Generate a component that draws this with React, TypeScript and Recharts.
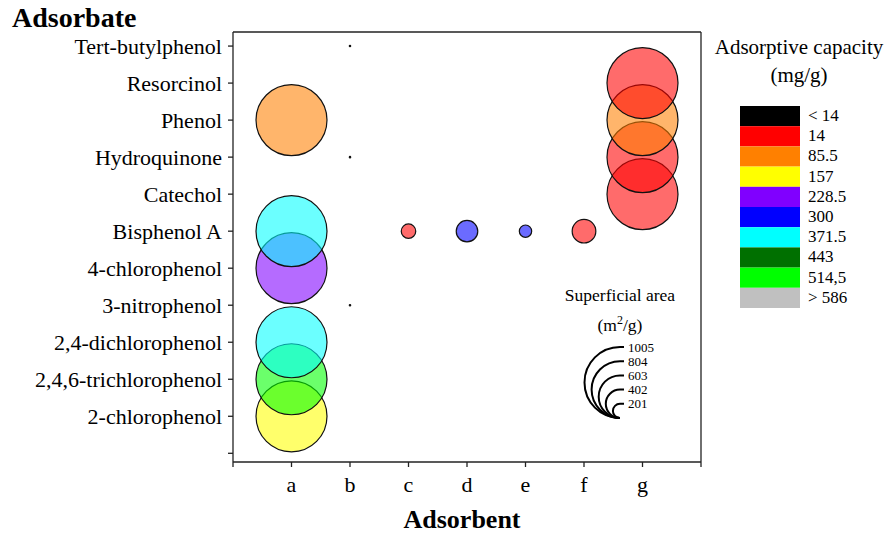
import { ScatterChart, Scatter, XAxis, YAxis, ReferenceLine } from "recharts";

const SERIF = '"Liberation Serif", "Times New Roman", serif';

const adsorbents = ["a", "b", "c", "d", "e", "f", "g"];

// bottom to top, the first slot is the blank tick under 2-chlorophenol
const adsorbates = [
  "",
  "2-chlorophenol",
  "2,4,6-trichlorophenol",
  "2,4-dichlorophenol",
  "3-nitrophenol",
  "4-chlorophenol",
  "Bisphenol A",
  "Catechol",
  "Hydroquinone",
  "Phenol",
  "Resorcinol",
  "Tert-butylphenol",
];

const capacityBreaks = [14, 85.5, 157, 228.5, 300, 371.5, 443, 514.5, 586];
const capacityLabels = ["< 14", "14", "85.5", "157", "228.5", "300", "371.5", "443", "514,5", "> 586"];
const capacityColors = [
  "#000000",
  "#ff0000",
  "#ff8000",
  "#ffff00",
  "#8000ff",
  "#0000ff",
  "#00ffff",
  "#007000",
  "#00ff00",
  "#c0c0c0",
];

const areaLegend = [1005, 804, 603, 402, 201];

// area = superficial area (m2/g), capacity = adsorptive capacity (mg/g)
const bubbles = [
  { adsorbent: "a", adsorbate: "2-chlorophenol", area: 1005, capacity: 190 },
  { adsorbent: "a", adsorbate: "2,4,6-trichlorophenol", area: 1005, capacity: 540 },
  { adsorbent: "a", adsorbate: "2,4-dichlorophenol", area: 1005, capacity: 410 },
  { adsorbent: "b", adsorbate: "3-nitrophenol", area: 20, capacity: 8 },
  { adsorbent: "a", adsorbate: "4-chlorophenol", area: 1005, capacity: 260 },
  { adsorbent: "a", adsorbate: "Bisphenol A", area: 1005, capacity: 400 },
  { adsorbent: "c", adsorbate: "Bisphenol A", area: 205, capacity: 50 },
  { adsorbent: "d", adsorbate: "Bisphenol A", area: 305, capacity: 330 },
  { adsorbent: "e", adsorbate: "Bisphenol A", area: 175, capacity: 320 },
  { adsorbent: "f", adsorbate: "Bisphenol A", area: 335, capacity: 60 },
  { adsorbent: "g", adsorbate: "Catechol", area: 1005, capacity: 50 },
  { adsorbent: "b", adsorbate: "Hydroquinone", area: 20, capacity: 8 },
  { adsorbent: "g", adsorbate: "Hydroquinone", area: 1005, capacity: 45 },
  { adsorbent: "a", adsorbate: "Phenol", area: 1005, capacity: 120 },
  { adsorbent: "g", adsorbate: "Phenol", area: 1005, capacity: 110 },
  { adsorbent: "g", adsorbate: "Resorcinol", area: 1005, capacity: 40 },
  { adsorbent: "b", adsorbate: "Tert-butylphenol", area: 20, capacity: 8 },
];

// bubble diameter grows linearly with superficial area
const diameterOf = (area: number) => (area * 71) / 1005;

const colorOf = (capacity: number) => {
  let i = 0;
  while (i < capacityBreaks.length && capacity >= capacityBreaks[i]) i++;
  return capacityColors[i];
};

const points = bubbles.map((b) => ({
  ...b,
  x: adsorbents.indexOf(b.adsorbent) + 1,
  y: adsorbates.indexOf(b.adsorbate),
}));

const Bubble = (props: any) => {
  const { cx, cy, payload } = props;
  if (cx == null || cy == null) return null;
  return (
    <circle
      cx={cx}
      cy={cy}
      r={diameterOf(payload.area) / 2}
      fill={colorOf(payload.capacity)}
      fillOpacity={0.58}
      stroke="#111"
      strokeWidth={1.2}
    />
  );
};

const axisStroke = { stroke: "#222", strokeWidth: 1.3 };
const tickStyle = { fill: "#000", fontSize: 22, fontFamily: SERIF };

export default function App() {
  const arcBottomX = 620;
  const arcBottomY = 418;

  return (
    <div style={{ position: "absolute", left: 0, top: 0, width: 896, height: 535, background: "#fff" }}>
      <ScatterChart width={896} height={535} margin={{ top: 32, right: 195, bottom: 0, left: 0 }}>
        <XAxis
          type="number"
          dataKey="x"
          domain={[0, 8]}
          ticks={[0, 1, 2, 3, 4, 5, 6, 7, 8]}
          interval={0}
          allowDataOverflow
          tickFormatter={(v: number) => adsorbents[v - 1] ?? ""}
          height={73}
          tickSize={5}
          tickMargin={9}
          axisLine={axisStroke}
          tickLine={axisStroke}
          tick={tickStyle}
        />
        <YAxis
          type="number"
          dataKey="y"
          domain={[-0.235, 11.38]}
          ticks={[0, 1, 2, 3, 4, 5, 6, 7, 8, 9, 10, 11]}
          interval={0}
          allowDataOverflow
          tickFormatter={(v: number) => adsorbates[v] ?? ""}
          width={233}
          tickSize={5}
          tickMargin={6}
          axisLine={axisStroke}
          tickLine={axisStroke}
          tick={tickStyle}
        />
        <ReferenceLine y={11.38} stroke="#222" strokeWidth={1.3} />
        <ReferenceLine x={8} stroke="#222" strokeWidth={1.3} />
        <Scatter data={points} shape={Bubble} isAnimationActive={false} />
      </ScatterChart>

      <svg
        width={896}
        height={535}
        style={{ position: "absolute", left: 0, top: 0, pointerEvents: "none" }}
        fontFamily={SERIF}
      >
        <text x={12} y={27} fontSize={28} fontWeight="bold" fill="#000">
          Adsorbate
        </text>
        <text x={462} y={528} fontSize={26} fontWeight="bold" fill="#000" textAnchor="middle">
          Adsorbent
        </text>

        {/* adsorptive capacity legend */}
        <text x={799} y={54} fontSize={21} textAnchor="middle" fill="#000">
          Adsorptive capacity
        </text>
        <text x={799} y={82} fontSize={21} textAnchor="middle" fill="#000">
          (mg/g)
        </text>
        {capacityLabels.map((label, i) => (
          <g key={label}>
            <rect x={740} y={106 + i * 20.2} width={60} height={20.2} fill={capacityColors[i]} />
            <text x={808} y={106 + i * 20.2 + 15} fontSize={17} fill="#000">
              {label}
            </text>
          </g>
        ))}

        {/* superficial area legend */}
        <text x={620} y={301} fontSize={17.5} textAnchor="middle" fill="#000">
          Superficial area
        </text>
        <text x={620} y={331} fontSize={17.5} textAnchor="middle" fill="#000">
          (m<tspan fontSize={12} dy={-7}>2</tspan>
          <tspan dy={7}>/g)</tspan>
        </text>
        {areaLegend.map((v) => {
          const d = diameterOf(v);
          const topY = arcBottomY - d;
          return (
            <g key={v}>
              <path
                d={`M ${arcBottomX + 4} ${topY} L ${arcBottomX} ${topY} A ${d / 2} ${d / 2} 0 0 0 ${arcBottomX} ${arcBottomY}`}
                fill="none"
                stroke="#000"
                strokeWidth={2}
              />
              <text x={arcBottomX + 8} y={topY + 4.5} fontSize={13} fill="#000">
                {v}
              </text>
            </g>
          );
        })}
      </svg>
    </div>
  );
}
